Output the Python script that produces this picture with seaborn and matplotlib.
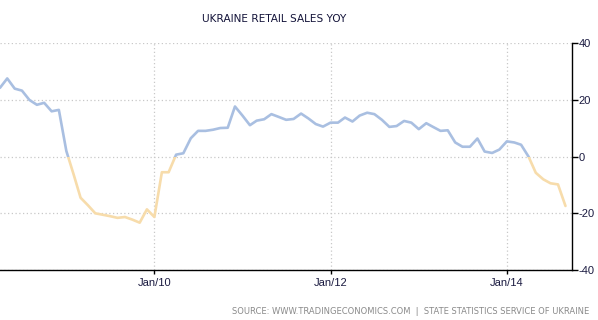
import numpy as np
import pandas as pd
import matplotlib
matplotlib.use("Agg")
import matplotlib.pyplot as plt
import matplotlib.dates as mdates
from matplotlib.patches import Rectangle
import seaborn as sns

# ---- data (monthly, Apr 2008 - Sep 2014) ----
start_month = "2008-04-01"
values = [24.3, 27.6, 24.0, 23.3, 20.0, 18.3, 19.0, 16.0, 16.5, 2.0,
          -6.5, -14.5, -17.2, -20.0, -20.5, -21.0, -21.6, -21.3, -22.2, -23.3,
          -18.6, -21.3, -5.5, -5.5, 0.7, 1.2, 6.5, 9.1, 9.1, 9.5,
          10.1, 10.2, 17.7, 14.5, 11.1, 12.7, 13.2, 15.0, 14.0, 13.0,
          13.3, 15.2, 13.5, 11.5, 10.6, 12.0, 12.0, 13.8, 12.4, 14.5,
          15.5, 15.0, 13.0, 10.5, 10.8, 12.6, 12.0, 9.7, 11.8, 10.5,
          9.1, 9.3, 5.0, 3.5, 3.5, 6.4, 1.8, 1.3, 2.5, 5.4,
          5.0, 4.2, 0.0, -5.7, -8.0, -9.4, -9.8, -17.4]
tick_dates = ["2010-01-01", "2012-01-01", "2014-01-01"]
tick_labels = ["Jan/10", "Jan/12", "Jan/14"]
y_ticks = [-40, -20, 0, 20, 40]
title = "UKRAINE RETAIL SALES YOY"
source = "SOURCE: WWW.TRADINGECONOMICS.COM  |  STATE STATISTICS SERVICE OF UKRAINE"

dates = pd.date_range(start_month, periods=len(values), freq="MS")
df = pd.DataFrame({"date": dates, "value": values})

sns.set_style("white")
fig = plt.figure(figsize=(5.98, 3.20), dpi=100)
ax = fig.add_axes([0.0, 50 / 320, 571.5 / 598, (270 - 43.3) / 320])

blue = "#a9bfe1"
yellow = "#f7dcab"

# positive part (blue) and negative part (yellow) via clipping
sns.lineplot(data=df, x="date", y="value", ax=ax, color=blue, linewidth=1.9)
sns.lineplot(data=df, x="date", y="value", ax=ax, color=yellow, linewidth=1.9)
lines = ax.get_lines()
ax.set_ylim(-40, 40)
x0 = mdates.date2num(pd.Timestamp("2000-01-01"))
x1 = mdates.date2num(pd.Timestamp("2020-01-01"))
clip_pos = Rectangle((x0, 0), x1 - x0, 100, transform=ax.transData)
clip_neg = Rectangle((x0, -100), x1 - x0, 100, transform=ax.transData)
lines[0].set_clip_path(clip_pos)
lines[1].set_clip_path(clip_neg)
for ln in lines:
    ln.set_solid_joinstyle("round")
    ln.set_solid_capstyle("round")

ax.set_xlim(pd.Timestamp("2008-04-01"), pd.Timestamp("2014-09-26"))
ax.set_xticks(pd.to_datetime(tick_dates))
ax.set_xticklabels(tick_labels)
ax.set_yticks(y_ticks)
ax.set_yticklabels([str(v) for v in y_ticks])
ax.yaxis.tick_right()
ax.set_xlabel("")
ax.set_ylabel("")

ax.grid(True, color="#c8c8c8", linestyle=(0, (1, 2)), linewidth=0.9)
ax.set_axisbelow(True)
for side in ["left", "top"]:
    ax.spines[side].set_visible(False)
for side in ["right", "bottom"]:
    ax.spines[side].set_visible(True)
    ax.spines[side].set_color("black")
    ax.spines[side].set_linewidth(1.0)

ax.tick_params(axis="y", which="both", right=True, left=False, length=4,
               width=1, color="black", direction="out", pad=1,
               labelsize=8, labelcolor="#1a1a40")
ax.tick_params(axis="x", which="both", bottom=True, length=3, width=1,
               color="black", direction="out", pad=2.5,
               labelsize=8, labelcolor="#1a1a40")
for lab in ax.get_xticklabels() + ax.get_yticklabels():
    lab.set_fontfamily("Liberation Sans")

fig.text(274 / 598, 1 - 19 / 320, title, ha="center", va="center",
         fontsize=7.6, color="#14143a", family="DejaVu Sans", weight="medium")
fig.text(589 / 598, 1 - 312 / 320, source, ha="right", va="center",
         fontsize=6, color="#8a8a8a", family="DejaVu Sans")

fig.savefig("out.png", dpi=100)
